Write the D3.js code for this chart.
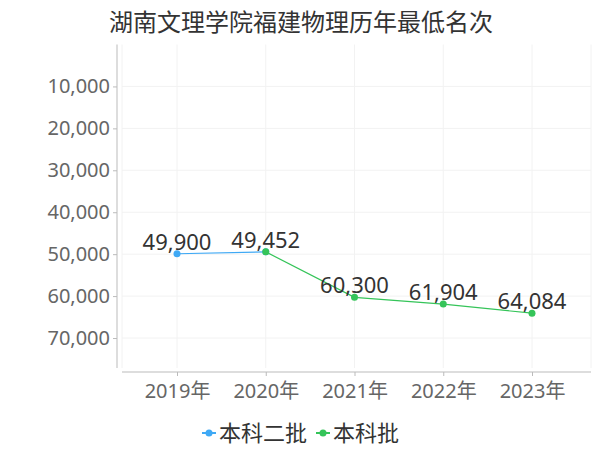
<!DOCTYPE html>
<html>
<head>
<meta charset="utf-8">
<script src="https://cdn.jsdelivr.net/npm/d3@7"></script>
<style>
  body { margin: 0; background: #fff; }
  text { font-family: "Noto Sans", "Noto Sans CJK SC", sans-serif; }
</style>
</head>
<body>
<div id="chart"></div>
<script>
// data
const years = ["2019年", "2020年", "2021年", "2022年", "2023年"];
const batch2 = [49900, 49452, null, null, null];   // 本科二批
const batch = [null, 49452, 60300, 61904, 64084];  // 本科批
const yTicks = [10000, 20000, 30000, 40000, 50000, 60000, 70000];
const seriesNames = ["本科二批", "本科批"];
const colors = ["#3fa9f5", "#35c459"];

const width = 600, height = 450;
const plotL = 122, plotR = 591, plotT = 44.5, plotB = 368;

const svg = d3.select("#chart").append("svg")
  .attr("width", width)
  .attr("height", height);

svg.append("text")
  .attr("x", 301).attr("y", 31)
  .attr("text-anchor", "middle")
  .attr("font-size", 24)
  .attr("fill", "#333")
  .text("湖南文理学院福建物理历年最低名次");

const x = d3.scalePoint()
  .domain(years)
  .range([177, 532]);

const y = d3.scaleLinear()
  .domain([0, 77150])
  .range([plotT, plotB]);

// grid
const grid = svg.append("g");
grid.selectAll(".hg").data(yTicks).enter().append("line")
  .attr("x1", plotL).attr("x2", plotR)
  .attr("y1", d => y(d)).attr("y2", d => y(d))
  .attr("stroke", "#f2f2f2");
grid.selectAll(".vg").data(years).enter().append("line")
  .attr("x1", d => x(d)).attr("x2", d => x(d))
  .attr("y1", plotT).attr("y2", plotB)
  .attr("stroke", "#f2f2f2");
[plotL, plotR].forEach(v => {
  grid.append("line")
    .attr("x1", v).attr("x2", v)
    .attr("y1", plotT).attr("y2", plotB)
    .attr("stroke", "#f2f2f2");
});

// y axis
const yAxis = svg.append("g")
  .attr("transform", "translate(117,0)")
  .call(d3.axisLeft(y).tickValues(yTicks).tickSize(4).tickFormat(d3.format(",")));
yAxis.select(".domain").attr("stroke", "#bbb").attr("d", "M0," + plotT + "V" + plotB);
yAxis.selectAll(".tick line").attr("stroke", "#bbb");
yAxis.selectAll(".tick text")
  .attr("font-size", 20)
  .attr("fill", "#666")
  .attr("x", -7)
  .attr("font-family", "Noto Sans");

// x axis
const xAxis = svg.append("g")
  .attr("transform", "translate(0,372)")
  .call(d3.axisBottom(x).tickSize(4));
xAxis.select(".domain").attr("stroke", "#bbb").attr("d", "M" + plotL + ",0H" + plotR);
xAxis.selectAll(".tick line").attr("stroke", "#bbb");
xAxis.selectAll(".tick text")
  .attr("font-size", 20)
  .attr("fill", "#666")
  .attr("dy", "0.95em")
  .attr("font-family", "Noto Sans, Noto Sans CJK SC");

// lines
const line = d3.line()
  .defined(d => d.v != null)
  .x(d => x(d.year))
  .y(d => y(d.v));

[batch2, batch].forEach((vals, i) => {
  const pts = years.map((yr, j) => ({ year: yr, v: vals[j] }));
  svg.append("path")
    .datum(pts)
    .attr("fill", "none")
    .attr("stroke", colors[i])
    .attr("stroke-width", 1.2)
    .attr("d", line);
  const valid = pts.filter(d => d.v != null);
  svg.selectAll(".pt" + i).data(valid).enter().append("circle")
    .attr("cx", d => x(d.year))
    .attr("cy", d => y(d.v))
    .attr("r", 3.5)
    .attr("fill", colors[i]);
});

// labels (one per year)
const labelVals = years.map((yr, j) => batch[j] != null ? batch[j] : batch2[j]);
svg.selectAll(".lbl").data(years).enter().append("text")
  .attr("x", d => x(d))
  .attr("y", (d, j) => y(labelVals[j]) - 4)
  .attr("text-anchor", "middle")
  .attr("font-size", 22)
  .attr("fill", "#333")
  .text((d, j) => d3.format(",")(labelVals[j]));

// legend
const legendX = [202, 316];
seriesNames.forEach((name, i) => {
  const g = svg.append("g").attr("transform", "translate(" + legendX[i] + ",433)");
  g.append("line").attr("x1", 0).attr("x2", 14).attr("stroke", colors[i]).attr("stroke-width", 2);
  g.append("circle").attr("cx", 7).attr("r", 3.5).attr("fill", colors[i]);
  g.append("text")
    .attr("x", 17).attr("y", 8)
    .attr("font-size", 22)
    .attr("fill", "#333")
    .text(name);
});
</script>
</body>
</html>
